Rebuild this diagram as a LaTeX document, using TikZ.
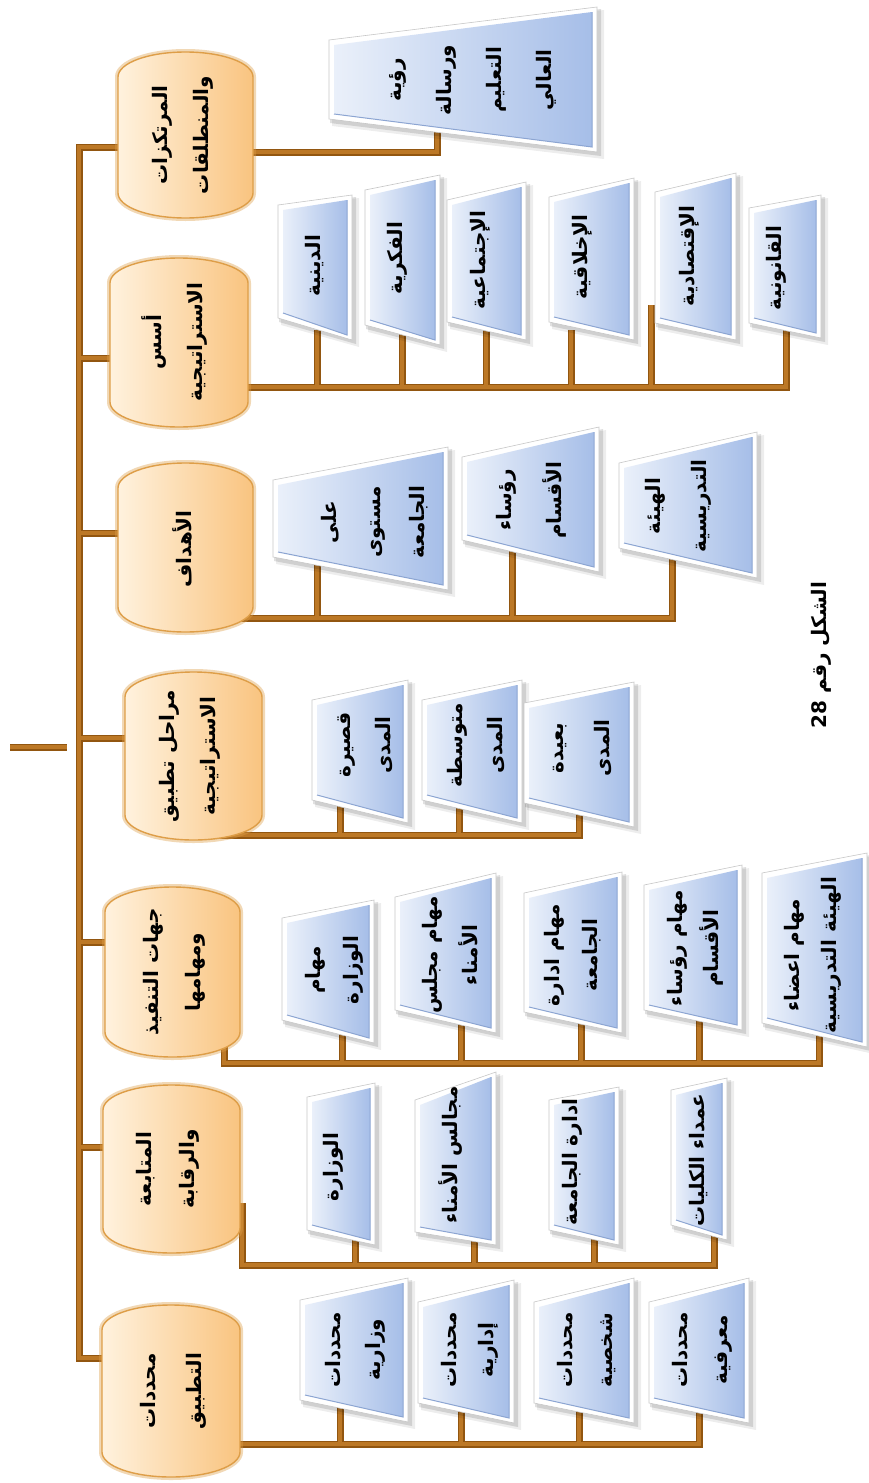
\documentclass[tikz,border=0pt]{standalone}
\usepackage{fontspec}
\newfontfamily\arfont[Script=Arabic]{DejaVu Sans}
\TeXXeTstate=1
\newcommand\AR[1]{\beginR#1\endR}

\definecolor{busdark}{RGB}{146,86,16}
\definecolor{buslight}{RGB}{188,120,38}
\definecolor{cylL}{RGB}{255,242,222}
\definecolor{cylR}{RGB}{249,196,128}
\definecolor{cylEdge}{RGB}{222,158,72}
\definecolor{trapL}{RGB}{234,240,250}
\definecolor{trapR}{RGB}{166,190,232}
\definecolor{trapE}{RGB}{140,165,210}

\tikzset{
  wireout/.style={draw=busdark, line width=7pt},
  wirein/.style={draw=buslight, line width=4pt},
  lbl/.style={rotate=90, align=center, inner sep=0pt, text=black,
    font=\arfont\bfseries\fontsize{20}{40}\selectfont},
  sp/.style={font=\arfont\bfseries\fontsize{20}{#1}\selectfont},
}

% barrel-shaped category box: x0, x1, top, bottom
\newcommand\cyl[4]{%
  \draw[cylEdge, line width=6pt, opacity=0.40]
    (#1,#3+25) .. controls (#1,#3+11) and ({(#1+#2)/2-0.276*(#2-#1)},#3) .. ({(#1+#2)/2},#3)
    .. controls ({(#1+#2)/2+0.276*(#2-#1)},#3) and (#2,#3+11) .. (#2,#3+25)
    -- (#2,#4-25) .. controls (#2,#4-11) and ({(#1+#2)/2+0.276*(#2-#1)},#4) .. ({(#1+#2)/2},#4)
    .. controls ({(#1+#2)/2-0.276*(#2-#1)},#4) and (#1,#4-11) .. (#1,#4-25) -- cycle;
  \shadedraw[left color=cylL, right color=cylR, draw=cylEdge, line width=1.4pt]
    (#1,#3+25) .. controls (#1,#3+11) and ({(#1+#2)/2-0.276*(#2-#1)},#3) .. ({(#1+#2)/2},#3)
    .. controls ({(#1+#2)/2+0.276*(#2-#1)},#3) and (#2,#3+11) .. (#2,#3+25)
    -- (#2,#4-25) .. controls (#2,#4-11) and ({(#1+#2)/2+0.276*(#2-#1)},#4) .. ({(#1+#2)/2},#4)
    .. controls ({(#1+#2)/2-0.276*(#2-#1)},#4) and (#1,#4-11) .. (#1,#4-25) -- cycle;
}

% bevelled trapezoid: x0, y left-top, y left-bottom, x1, y right-top, y right-bottom
\newcommand\trap[6]{%
  \fill[black, opacity=0.07] (#1+3,#2+3) -- (#4+7,#5+3) -- (#4+7,#6+7) -- (#1+3,#3+7) -- cycle;
  \fill[black, opacity=0.12] (#1+1,#2+1) -- (#4+4,#5+2) -- (#4+4,#6+4) -- (#1+1,#3+4) -- cycle;
  \filldraw[fill=white, draw=black!22, line width=0.6pt] (#1,#2) -- (#4,#5) -- (#4,#6) -- (#1,#3) -- cycle;
  \shade[left color=trapL, right color=trapR] (#1+5,#2+5) -- (#4-5,#5+5) -- (#4-5,#6-5) -- (#1+5,#3-5) -- cycle;
  \draw[trapE, line width=1pt] (#1+5,#3-5) -- (#4-5,#6-5) -- (#4-5,#5+5);
}

% all connectors, drawn twice (outer and inner stroke)
\newcommand\wires[1]{%
  \draw[#1] (stemL) -- (stemR);
  \draw[#1] (k1in) -- (trunkT) -- (trunkB) -- (k7in);
  \draw[#1] (trunkT |- k2in) -- (k2in);
  \draw[#1] (trunkT |- k3in) -- (k3in);
  \draw[#1] (trunkT |- k4in) -- (k4in);
  \draw[#1] (trunkT |- k5in) -- (k5in);
  \draw[#1] (trunkT |- k6in) -- (k6in);
  \draw[#1] (k1out) -| (t11);
  \draw[#1] (k2out) -| (t26);
  \draw[#1] (t21) -- (t21 |- k2out);
  \draw[#1] (t22) -- (t22 |- k2out);
  \draw[#1] (t23) -- (t23 |- k2out);
  \draw[#1] (t24) -- (t24 |- k2out);
  \draw[#1] (t25) -- (t25 |- k2out);
  \draw[#1] (k3out) -| (t33);
  \draw[#1] (t31) -- (t31 |- k3out);
  \draw[#1] (t32) -- (t32 |- k3out);
  \draw[#1] (k4out) -| (t43);
  \draw[#1] (t41) -- (t41 |- k4out);
  \draw[#1] (t42) -- (t42 |- k4out);
  \draw[#1] (k5out) -- (k5bus) -| (t55);
  \draw[#1] (t51) -- (t51 |- k5bus);
  \draw[#1] (t52) -- (t52 |- k5bus);
  \draw[#1] (t53) -- (t53 |- k5bus);
  \draw[#1] (t54) -- (t54 |- k5bus);
  \draw[#1] (k6out) -- (k6bus) -| (t64);
  \draw[#1] (t61) -- (t61 |- k6bus);
  \draw[#1] (t62) -- (t62 |- k6bus);
  \draw[#1] (t63) -- (t63 |- k6bus);
  \draw[#1] (k7out) -| (t74);
  \draw[#1] (t71) -- (t71 |- k7out);
  \draw[#1] (t72) -- (t72 |- k7out);
  \draw[#1] (t73) -- (t73 |- k7out);
}

\begin{document}
\begin{tikzpicture}[x=1pt, y=-1pt]
\useasboundingbox (0,0) rectangle (868,1483);
\fill[white] (0,0) rectangle (868,1483);

% trunk and stem
\coordinate (stemL) at (10,747);
\coordinate (stemR) at (67,747);
\coordinate (trunkT) at (79,147);
\coordinate (trunkB) at (79,1358);
% entry points of the category boxes
\coordinate (k1in) at (122,147);
\coordinate (k2in) at (114,358);
\coordinate (k3in) at (122,533);
\coordinate (k4in) at (129,738);
\coordinate (k5in) at (109,942);
\coordinate (k6in) at (107,1147);
\coordinate (k7in) at (106,1358);
% exit points of the category boxes
\coordinate (k1out) at (240,152);
\coordinate (k2out) at (235,387);
\coordinate (k3out) at (190,618);
\coordinate (k4out) at (193,835);
\coordinate (k5out) at (224,1030);
\coordinate (k5bus) at (224,1063);
\coordinate (k6out) at (242,1203);
\coordinate (k6bus) at (242,1265);
\coordinate (k7out) at (225,1444);
% attach points under the trapezoids
\coordinate (t11) at (437,128);
\coordinate (t21) at (317,330);
\coordinate (t22) at (402,330);
\coordinate (t23) at (486,330);
\coordinate (t24) at (571,330);
\coordinate (t25) at (651,305);
\coordinate (t26) at (786,330);
\coordinate (t31) at (317,560);
\coordinate (t32) at (512,545);
\coordinate (t33) at (672,555);
\coordinate (t41) at (340,803);
\coordinate (t42) at (459,803);
\coordinate (t43) at (579,810);
\coordinate (t51) at (342,1030);
\coordinate (t52) at (461,1020);
\coordinate (t53) at (581,1020);
\coordinate (t54) at (699,1016);
\coordinate (t55) at (819,1030);
\coordinate (t61) at (355,1235);
\coordinate (t62) at (474,1236);
\coordinate (t63) at (594,1235);
\coordinate (t64) at (714,1231);
\coordinate (t71) at (340,1404);
\coordinate (t72) at (461,1407);
\coordinate (t73) at (579,1407);
\coordinate (t74) at (699,1408);

\wires{wireout}
\wires{wirein}

% category boxes
\cyl{118}{253}{52}{218}
\cyl{110}{248}{258}{427}
\cyl{118}{253}{463}{632}
\cyl{125}{262}{672}{840}
\cyl{105}{240}{887}{1057}
\cyl{103}{240}{1085}{1253}
\cyl{102}{240}{1305}{1477}

% trapezoids
\trap{329}{40}{119}{597}{7}{152}
\trap{278}{205}{318}{352}{195}{340}
\trap{365}{190}{325}{440}{175}{345}
\trap{447}{200}{322}{526}{182}{340}
\trap{549}{197}{322}{634}{178}{340}
\trap{655}{192}{323}{736}{173}{340}
\trap{749}{208}{323}{821}{195}{338}
\trap{273}{480}{557}{448}{447}{590}
\trap{462}{457}{540}{599}{427}{572}
\trap{619}{463}{548}{757}{432}{578}
\trap{312}{700}{800}{408}{680}{823}
\trap{422}{700}{800}{522}{680}{823}
\trap{524}{703}{803}{634}{682}{827}
\trap{282}{918}{1020}{374}{900}{1043}
\trap{395}{897}{1010}{496}{873}{1033}
\trap{524}{893}{1012}{622}{872}{1033}
\trap{644}{885}{1010}{742}{865}{1030}
\trap{762}{873}{1023}{867}{853}{1047}
\trap{307}{1097}{1230}{375}{1083}{1245}
\trap{415}{1100}{1232}{496}{1072}{1245}
\trap{549}{1100}{1230}{619}{1087}{1245}
\trap{671}{1090}{1225}{727}{1078}{1240}
\trap{300}{1300}{1400}{408}{1278}{1422}
\trap{418}{1302}{1403}{514}{1280}{1423}
\trap{534}{1302}{1403}{634}{1278}{1423}
\trap{649}{1302}{1403}{749}{1278}{1423}

% category labels
\node[lbl, sp=41] (k1) at (183,135) {\AR{المرتكزات}\\\AR{والمنطلقات}};
\node[lbl, sp=41] (k2) at (175,342) {\AR{أسس}\\\AR{الاستراتيجية}};
\node[lbl] (k3) at (182,549) {\AR{الأهداف}};
\node[lbl, sp=41] (k4) at (190,756) {\AR{مراحل تطبيق}\\\AR{الاستراتيجية}};
\node[lbl, sp=42] (k5) at (174,972) {\AR{جهات التنفيذ}\\\AR{ومهامها}};
\node[lbl, sp=43] (k6) at (168,1169) {\AR{المتابعة}\\\AR{والرقابة}};
\node[lbl, sp=46] (k7) at (173,1391) {\AR{محددات}\\\AR{التطبيق}};

% item labels
\node[lbl, sp=50] (p11) at (473,80) {\AR{رؤية}\\\AR{ورسالة}\\\AR{التعليم}\\\AR{العالي}};
\node[lbl] (p21) at (315,266) {\AR{الدينية}};
\node[lbl] (p22) at (397,258) {\AR{الفكرية}};
\node[lbl] (p23) at (480,260) {\AR{الإجتماعية}};
\node[lbl] (p24) at (582,257) {\AR{الإخلاقية}};
\node[lbl] (p25) at (689,256) {\AR{الإقتصادية}};
\node[lbl] (p26) at (776,268) {\AR{القانونية}};
\node[lbl, sp=44] (p31) at (375,522) {\AR{على}\\\AR{مستوى}\\\AR{الجامعة}};
\node[lbl, sp=50] (p32) at (531,500) {\AR{رؤساء}\\\AR{الأقسام}};
\node[lbl, sp=46] (p33) at (678,506) {\AR{الهيئة}\\\AR{التدريسية}};
\node[lbl, sp=40] (p41) at (365,745) {\AR{قصيرة}\\\AR{المدى}};
\node[lbl, sp=40] (p42) at (476,745) {\AR{متوسطة}\\\AR{المدى}};
\node[lbl, sp=46] (p43) at (582,748) {\AR{بعيدة}\\\AR{المدى}};
\node[lbl, sp=38] (p51) at (334,970) {\AR{مهام}\\\AR{الوزارة}};
\node[lbl, sp=40] (p52) at (450,955) {\AR{مهام مجلس}\\\AR{الأمناء}};
\node[lbl, sp=38] (p53) at (573,955) {\AR{مهام ادارة}\\\AR{الجامعة}};
\node[lbl, sp=36] (p54) at (695,948) {\AR{مهام رؤساء}\\\AR{الأقسام}};
\node[lbl, sp=37] (p55) at (813,955) {\AR{مهام اعضاء}\\\AR{الهيئة التدريسية}};
\node[lbl] (p61) at (333,1167) {\AR{الوزارة}};
\node[lbl] (p62) at (450,1155) {\AR{مجالس الأمناء}};
\node[lbl] (p63) at (572,1162) {\AR{ادارة الجامعة}};
\node[lbl] (p64) at (699,1160) {\AR{عمداء الكليات}};
\node[lbl, sp=40] (p71) at (355,1350) {\AR{محددات}\\\AR{وزارية}};
\node[lbl, sp=37] (p72) at (470,1350) {\AR{محددات}\\\AR{إدارية}};
\node[lbl, sp=40] (p73) at (587,1350) {\AR{محددات}\\\AR{شخصية}};
\node[lbl, sp=40] (p74) at (702,1350) {\AR{محددات}\\\AR{معرفية}};

% caption
\node[lbl, font=\arfont\bfseries\fontsize{20}{24}\selectfont] (cap) at (821,655)
  {\beginR الشكل رقم \beginL 28\endL\endR};
\end{tikzpicture}
\end{document}
